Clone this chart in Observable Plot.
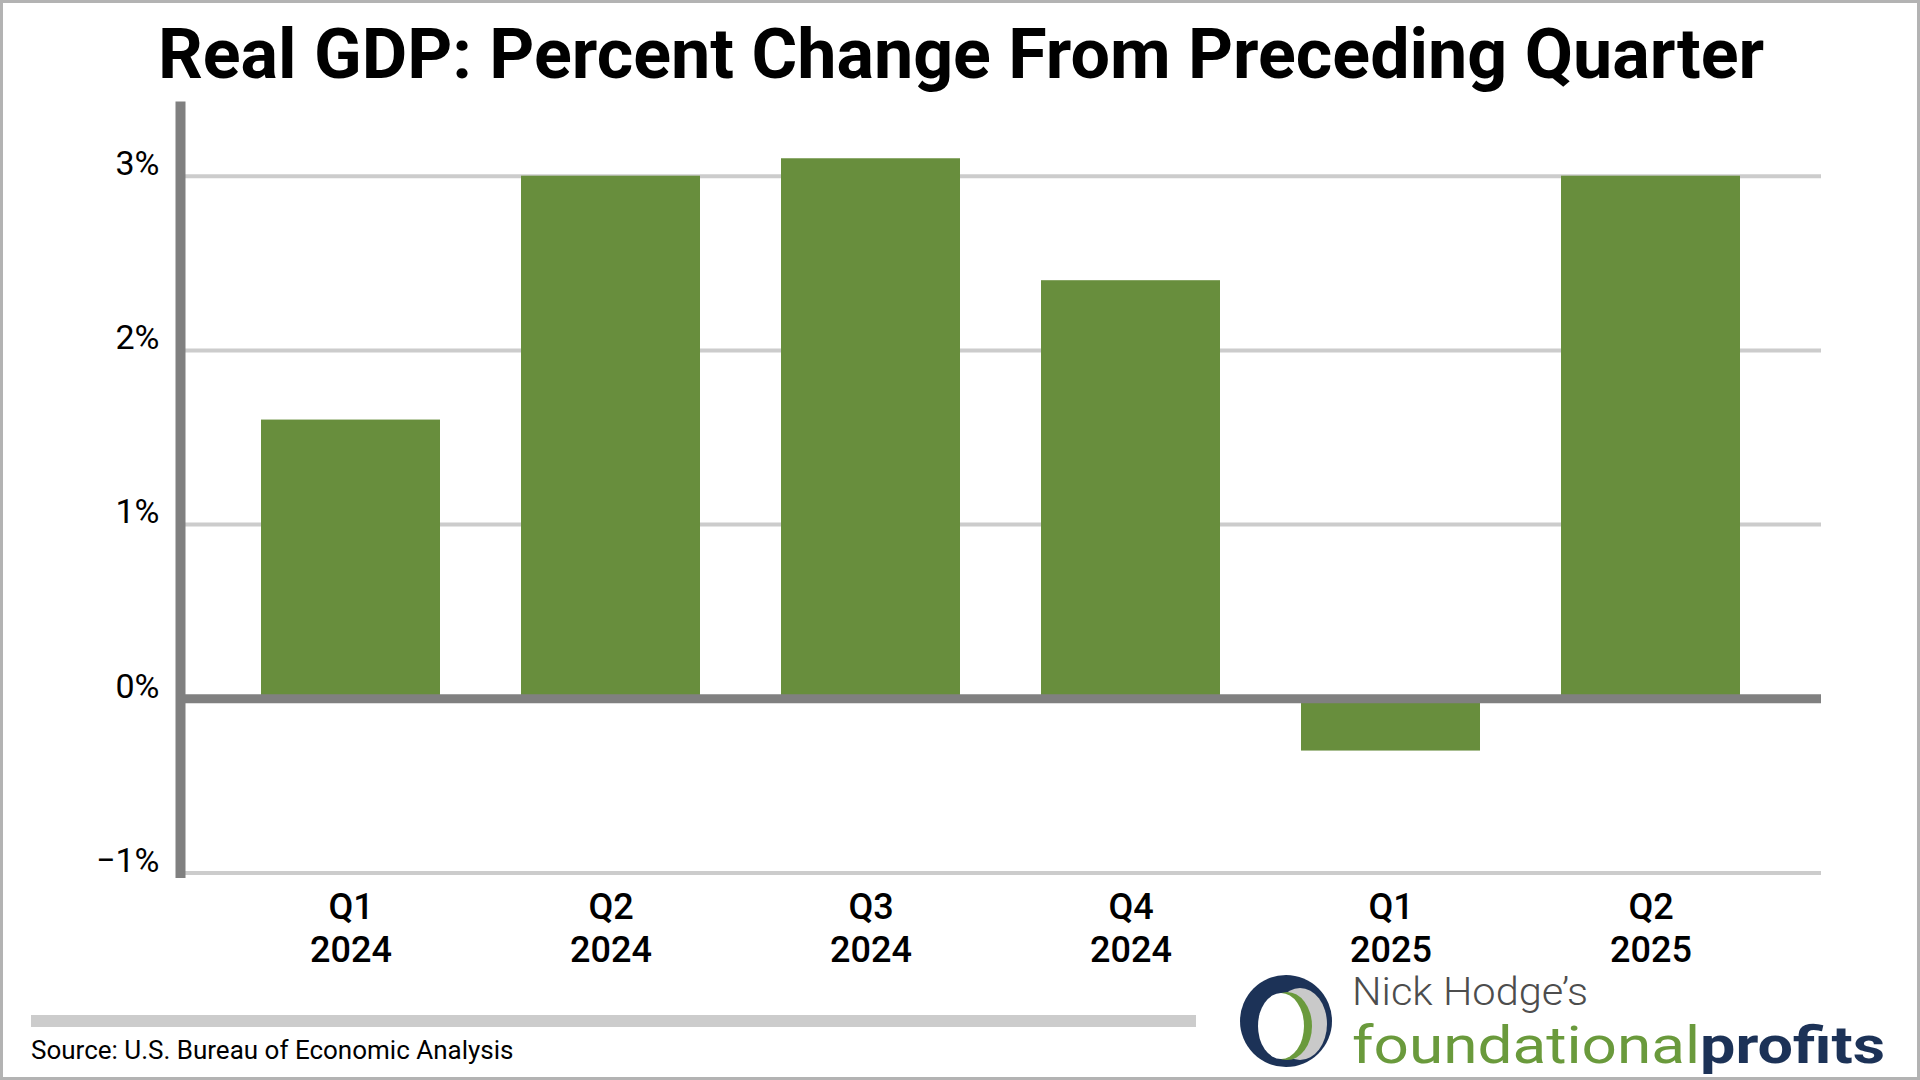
<!DOCTYPE html>
<html>
<head>
<meta charset="utf-8">
<script src="https://cdn.jsdelivr.net/npm/d3@7"></script>
<script src="https://cdn.jsdelivr.net/npm/@observablehq/plot@0.6"></script>
<style>
  html, body { margin: 0; padding: 0; background: #fff; }
  #page { position: relative; width: 1920px; height: 1080px; overflow: hidden; background: #fff; font-family: Roboto, "Noto Sans", sans-serif; }
  #chart, #deco { position: absolute; left: 0; top: 0; }
  #deco { pointer-events: none; }
</style>
</head>
<body>
<div id="page">
  <div id="chart"></div>
  <svg id="deco" width="1920" height="1080" viewBox="0 0 1920 1080">
    <rect x="1.5" y="1.5" width="1917" height="1077" fill="none" stroke="#b3b3b3" stroke-width="3"/>
    <text x="961" y="78" text-anchor="middle" font-family="Roboto" font-weight="700" font-size="70" fill="#000">Real GDP: Percent Change From Preceding Quarter</text>
    <rect x="31" y="1015" width="1165" height="12" fill="#cccccc"/>
    <text x="31" y="1059" font-family="Roboto" font-size="26" fill="#000">Source: U.S. Bureau of Economic Analysis</text>
    <g id="logo">
      <ellipse cx="1286" cy="1021" rx="46" ry="46" fill="#1c3257"/>
      <ellipse cx="1300" cy="1024" rx="27" ry="36" fill="#c9c9c9"/>
      <ellipse cx="1287" cy="1026" rx="25" ry="34" fill="#6a9a3c"/>
      <ellipse cx="1281" cy="1026" rx="23" ry="33" fill="#ffffff"/>
      <text x="1352" y="1005" font-family="Roboto" font-weight="300" font-size="39" fill="#4d4d4d" textLength="236" lengthAdjust="spacingAndGlyphs">Nick Hodge’s</text>
      <text x="1352" y="1063" font-family="Roboto" font-size="52" fill="#6a9a3c" textLength="348" lengthAdjust="spacingAndGlyphs">foundational</text>
      <text x="1700" y="1063" font-family="Roboto" font-weight="700" font-size="52" fill="#1c3257" textLength="185" lengthAdjust="spacingAndGlyphs">profits</text>
    </g>
  </svg>
</div>
<script>
// Data
const quarters = ["Q1", "Q2", "Q3", "Q4", "Q1", "Q2"];
const years = ["2024", "2024", "2024", "2024", "2025", "2025"];
const gdpChange = [1.6, 3.0, 3.1, 2.4, -0.3, 3.0];
const yTicks = [-1, 0, 1, 2, 3];
const gridTicks = [-1, 1, 2, 3];

const labels = quarters.map((q, i) => q + "\n" + years[i]);
const data = labels.map((label, i) => ({label, value: gdpChange[i]}));

const chart = Plot.plot({
  width: 1920,
  height: 1080,
  marginTop: 106,
  marginBottom: 207.5,
  marginLeft: 180,
  marginRight: 99,
  style: {fontFamily: "Roboto", color: "#000", background: "transparent"},
  x: {domain: labels, padding: 0.31, label: null},
  y: {domain: [-1, 3.4], label: null},
  marks: [
    Plot.ruleY(gridTicks, {stroke: "#cccccc", strokeWidth: 4}),
    Plot.barY(data, {x: "label", y: "value", fill: "#688e3d"}),
    Plot.ruleY([0], {stroke: "#808080", strokeWidth: 9}),
    Plot.frame({anchor: "left", stroke: "#808080", strokeWidth: 10}),
    Plot.axisY({
      ticks: yTicks, tickSize: 0, tickPadding: 21, fontSize: 34, dy: -12,
      tickFormat: d => (d < 0 ? "\u2212" : "") + Math.abs(d) + "%", label: null
    }),
    Plot.axisX({
      tickSize: 0, tickPadding: 16, fontSize: 36, fontWeight: 500, lineHeight: 1.18, label: null
    })
  ]
});
document.getElementById("chart").appendChild(chart);
</script>
</body>
</html>
